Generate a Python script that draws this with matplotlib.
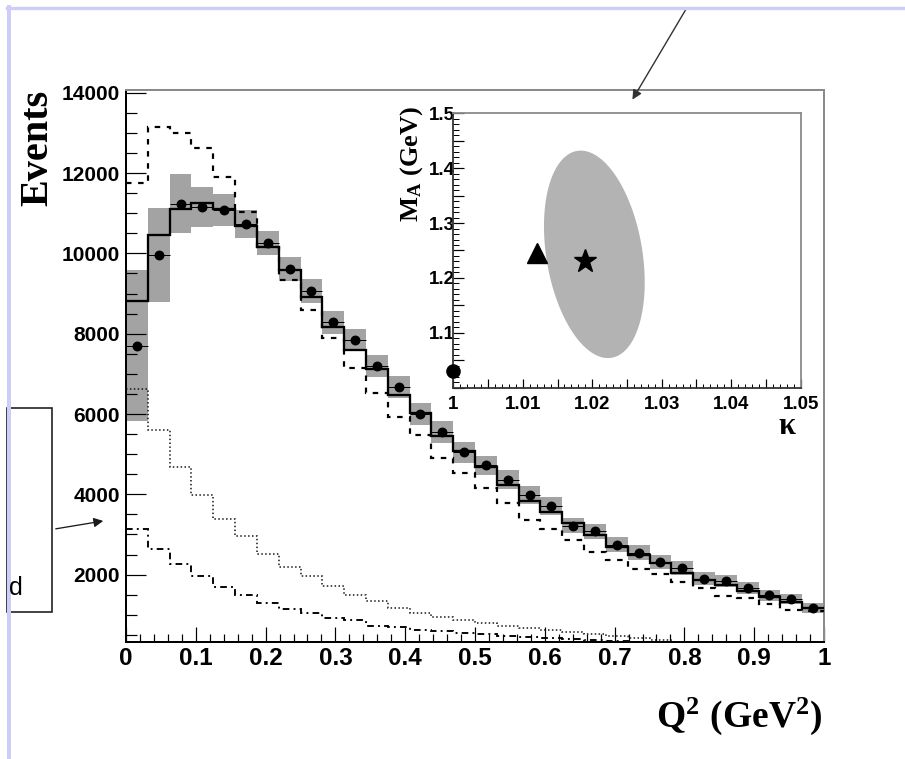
import numpy as np
import matplotlib
matplotlib.use("Agg")
import matplotlib.pyplot as plt
from matplotlib.lines import Line2D
from matplotlib.patches import Rectangle, FancyArrowPatch
from matplotlib.ticker import MultipleLocator, FuncFormatter

# ---------------- data ----------------
q2_edges = np.linspace(0.0, 1.0, 33)  # 32 bins in Q^2 (GeV^2)

data_events = [7700, 9960, 11240, 11160, 11080, 10730, 10260, 9610, 9070, 8280,
               7840, 7200, 6670, 6000, 5550, 5050, 4720, 4360, 3990, 3710,
               3220, 3075, 2750, 2550, 2325, 2165, 1900, 1850, 1667, 1490,
               1400, 1180]
data_syst = [1880, 1180, 730, 506, 400, 353, 300, 290, 300, 280,
             280, 275, 280, 270, 270, 260, 245, 235, 225, 215,
             190, 190, 185, 180, 175, 165, 155, 150, 145, 140,
             130, 125]
mc_best_fit = [8810, 10460, 11100, 11250, 11100, 10690, 10160, 9590, 8920, 8180,
               7600, 7110, 6480, 6020, 5460, 5090, 4670, 4230, 3840, 3570,
               3280, 2990, 2690, 2490, 2280, 2050, 1873, 1730, 1590, 1440,
               1308, 1169]
mc_nominal = [11750, 13150, 13000, 12630, 11900, 11020, 10160, 9350, 8590, 7890,
              7140, 6520, 5935, 5480, 4910, 4527, 4154, 3780, 3366, 3125,
              2855, 2562, 2371, 2139, 2018, 1823, 1667, 1458, 1418, 1260,
              1127, 1100]
bkg_dotted = [6620, 5600, 4690, 3990, 3380, 2950, 2520, 2200, 1955, 1725,
              1500, 1333, 1170, 1045, 935, 870, 800, 730, 670, 610,
              560, 510, 460, 410, 360, 320, 290, 265, 245, 225,
              210, 195]
bkg_dashdot = [3135, 2640, 2270, 1955, 1680, 1500, 1295, 1145, 1045, 920,
               860, 730, 690, 630, 590, 550, 515, 480, 450, 420,
               395, 370, 350, 330, 310, 290, 275, 260, 245, 230,
               220, 210]

x_ticklabels = ["0", "0.1", "0.2", "0.3", "0.4", "0.5", "0.6", "0.7", "0.8", "0.9", "1"]
y_ticklabels = ["2000", "4000", "6000", "8000", "10000", "12000", "14000"]

# fit results in the (kappa, M_A) plane
kappa_default, ma_default = 1.000, 1.030
kappa_alt, ma_alt = 1.012, 1.246
kappa_fit, ma_fit = 1.019, 1.231
contour_center = (1.0203, 1.243)
contour_sigma = (0.00725, 0.189)
contour_rho = -0.27

# ---------------- style ----------------
plt.rcParams["font.family"] = ["Liberation Sans", "DejaVu Sans"]
plt.rcParams["font.weight"] = "bold"
plt.rcParams["mathtext.fontset"] = "custom"
plt.rcParams["mathtext.rm"] = "Liberation Serif:bold"
plt.rcParams["mathtext.bf"] = "Liberation Serif:bold"
plt.rcParams["mathtext.it"] = "Liberation Serif:bold"

W, H = 905, 759
fig = plt.figure(figsize=(W / 100, H / 100), dpi=100)
fig.patch.set_facecolor("white")


def fx(px):
    return px / W


def fy(py):
    return 1 - py / H


PX = 0.72  # points per pixel at 100 dpi

# ---------------- main histogram panel ----------------
ax = fig.add_axes([fx(126), fy(641.7), fx(824) - fx(126), fy(90) - fy(641.7)])
edges = q2_edges
centers = 0.5 * (edges[:-1] + edges[1:])
width = edges[1] - edges[0]
d = np.array(data_events, float)
e = np.array(data_syst, float)

ax.bar(centers, 2 * e, bottom=d - e, width=width, color="#a3a3a3", lw=0, zorder=1)
ax.stairs(mc_nominal, edges, baseline=None, color="black", lw=2.2 * PX,
          linestyle=(0, (2.5, 3.0)), zorder=3)
ax.stairs(bkg_dotted, edges, baseline=None, color="#111111", lw=1.5 * PX,
          linestyle=(0, (1, 1.6)), zorder=3)
ax.stairs(bkg_dashdot, edges, baseline=None, color="black", lw=1.9 * PX,
          linestyle=(0, (3.5, 2.2, 1, 2.2)), zorder=3)
ax.stairs(mc_best_fit, edges, baseline=None, color="black", lw=2.3 * PX, zorder=4)
ax.errorbar(centers, d, xerr=width / 2, fmt="o", color="black", ms=8.5 * PX,
            elinewidth=1.0 * PX, capsize=0, zorder=5)

ax.set_xlim(0, 1)
ax.set_ylim(330, 14070)
ax.set_xticks(np.linspace(0, 1, 11), x_ticklabels)
ax.set_yticks(np.arange(2000, 14001, 2000), y_ticklabels)
ax.xaxis.set_minor_locator(MultipleLocator(0.02))
ax.yaxis.set_minor_locator(MultipleLocator(500))
ax.tick_params(axis="x", which="major", direction="in", length=15.5 * PX, width=1.2 * PX,
               labelsize=17.5, pad=3.5)
ax.tick_params(axis="x", which="minor", direction="in", length=8 * PX, width=1.2 * PX)
ax.tick_params(axis="y", which="major", direction="in", length=20 * PX, width=1.2 * PX,
               labelsize=15, pad=4.5)
ax.tick_params(axis="y", which="minor", direction="in", length=10.5 * PX, width=1.2 * PX)
for side in ("left", "bottom"):
    ax.spines[side].set_linewidth(2 * PX)
    ax.spines[side].set_color("black")
for side in ("top", "right"):
    ax.spines[side].set_linewidth(2 * PX)
    ax.spines[side].set_color("#8a8a8a")

fig.text(fx(38), fy(148), "Events", rotation=90, ha="center", va="center",
         family="Liberation Serif", weight="bold", fontsize=29)
fig.text(fx(823), fy(716), r"$\mathrm{Q^2\ (GeV^2)}$", ha="right", va="center",
         fontsize=27)

# ---------------- inset: kappa vs M_A ----------------
axi = fig.add_axes([fx(453.3), fy(387.7), fx(800.7) - fx(453.3), fy(113.3) - fy(387.7)])
t = np.linspace(0, 2 * np.pi, 400)
cx, cy = contour_center
sx, sy = contour_sigma
ex = cx + sx * np.cos(t)
ey = cy + sy * (contour_rho * np.cos(t) + np.sqrt(1 - contour_rho ** 2) * np.sin(t))
axi.fill(ex, ey, color="#b3b3b3", lw=0, zorder=1)
axi.plot([kappa_alt], [ma_alt], marker="^", ms=14, color="black", zorder=3)
axi.plot([kappa_fit], [ma_fit], marker="*", ms=17, color="black", zorder=3)
axi.plot([kappa_default], [ma_default], marker="o", ms=9.5, color="black",
         zorder=4, clip_on=False)

axi.set_xlim(1.0, 1.05)
axi.set_ylim(1.0, 1.5)


def kappa_fmt(v, pos):
    if abs(v * 100 - round(v * 100)) < 1e-6:
        return "%g" % round(v, 2)
    return ""


def ma_fmt(v, pos):
    if abs(v * 10 - round(v * 10)) < 1e-6 and v > 1.05:
        return "%g" % round(v, 1)
    return ""


axi.xaxis.set_major_locator(MultipleLocator(0.005))
axi.xaxis.set_minor_locator(MultipleLocator(0.001))
axi.yaxis.set_major_locator(MultipleLocator(0.05))
axi.yaxis.set_minor_locator(MultipleLocator(0.01))
axi.xaxis.set_major_formatter(FuncFormatter(kappa_fmt))
axi.yaxis.set_major_formatter(FuncFormatter(ma_fmt))
axi.tick_params(axis="x", which="major", direction="in", length=9 * PX, width=1.2 * PX,
                labelsize=13.5, pad=6)
axi.tick_params(axis="x", which="minor", direction="in", length=4.5 * PX, width=1.0 * PX)
axi.tick_params(axis="y", which="major", direction="in", length=11 * PX, width=1.2 * PX,
                labelsize=13.5, pad=-1)
axi.tick_params(axis="y", which="minor", direction="in", length=6 * PX, width=1.0 * PX)
for side in ("left", "bottom"):
    axi.spines[side].set_linewidth(1.8 * PX)
    axi.spines[side].set_color("#333333")
for side in ("top", "right"):
    axi.spines[side].set_linewidth(1.8 * PX)
    axi.spines[side].set_color("#8a8a8a")

fig.text(fx(411.5), fy(164), r"$\mathrm{M_A\ (GeV)}$", rotation=90, ha="center",
         va="center", fontsize=19)
fig.text(fx(787), fy(426), "κ", ha="center", va="center",
         family="Liberation Serif", weight="bold", fontsize=22)

# ---------------- slide annotations ----------------
lav = "#cdcdf8"
fig.add_artist(Line2D([fx(8.7), fx(8.7)], [fy(6.5), fy(759)], color=lav, lw=4 * PX))
fig.add_artist(Line2D([fx(7), fx(905)], [fy(8.2), fy(8.2)], color=lav, lw=3.4 * PX))

fig.add_artist(Rectangle((fx(7), fy(612.3)), fx(51.7) - fx(7), fy(408.3) - fy(612.3),
                         transform=fig.transFigure, fill=False, ec="#1a1a1a",
                         lw=1.6 * PX))
fig.text(fx(8.5), fy(588), "d", ha="left", va="center", family="Liberation Sans",
         weight="normal", fontsize=18)

fig.add_artist(FancyArrowPatch((fx(53), fy(529.3)), (fx(106), fy(520.5)),
                               transform=fig.transFigure, arrowstyle="-|>",
                               mutation_scale=14, color="#1a1a1a", lw=1.3 * PX))
fig.add_artist(FancyArrowPatch((fx(687), fy(7.5)), (fx(631), fy(102)),
                               transform=fig.transFigure, arrowstyle="-|>",
                               mutation_scale=14, color="#333333", lw=1.4 * PX))

fig.savefig("out.png", dpi=100, facecolor="white")
